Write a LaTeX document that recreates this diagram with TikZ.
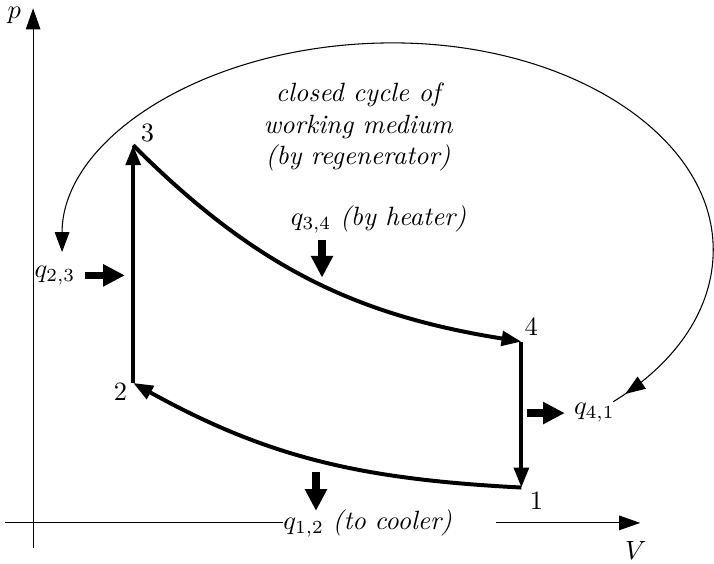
\documentclass[tikz,border=0pt]{standalone}
\usepackage{amsmath,amssymb}
\usepackage{xcolor}
\usepackage{tikz}
\usetikzlibrary{arrows.meta,positioning,decorations.markings}
\tikzset{
  axis/.style={-{Triangle[length=8pt,width=5.5pt]},line width=0.4pt},
  cycle/.style={-{Triangle[length=7.5pt,width=5.5pt]},line width=1.5pt},
  heat/.style={-{Triangle[length=8.2pt,width=7.9pt]},line width=2.8pt},
  regen/.style={-{Triangle[length=7.5pt,width=5.5pt]},line width=0.4pt,
    postaction={decorate},
    decoration={markings,mark=at position 5.5pt with {\arrowreversed{Triangle[length=7.5pt,width=5.5pt]}}}},
  num/.style={inner sep=1pt},
  note/.style={align=center,font=\itshape}
}

\begin{document}
\begin{tikzpicture}
\useasboundingbox (-0.44,-0.545) rectangle (9.05,6.95);
% axes
\coordinate (vbot) at (0,-0.33);
\coordinate (vtop) at (0,6.84);
\coordinate (hleft) at (-0.37,0);
\coordinate (hright) at (8.07,0);
\draw[axis] (vbot) -- (vtop);
\draw[axis] (hleft) -- (hright);
\node[inner sep=1pt] (plabel) at (-0.25,6.75) {$p$};
\node (vlabel) at (8.01,-0.37) {$V$};
% state points
\coordinate (s1) at (6.49,0.47);
\coordinate (s2) at (1.33,1.86);
\coordinate (s3) at (1.33,5.02);
\coordinate (s4) at (6.49,2.41);
\node[num] (n1) at (6.69,0.29) {1};
\node[num] (n2) at (1.16,1.74) {2};
\node[num] (n3) at (1.52,5.18) {3};
\node[num] (n4) at (6.62,2.61) {4};
\draw[cycle] (s2) -- (s3);
\draw[cycle] (s3) to[out=-45,in=171] (s4);
\draw[cycle] (s4) -- (s1);
\draw[cycle] (s1) to[out=177,in=-29] (s2);
% heat flows
\node (q23) at (0.29,3.29) {$q_{2,3}$};
\coordinate (h23) at (1.22,3.29);
\draw[heat] (q23) -- (h23);
\node (q34) at (4.59,4.04) {$q_{3,4}$ \textit{(by heater)}};
\coordinate (h34a) at (3.84,3.76);
\coordinate (h34b) at (3.84,3.26);
\draw[heat] (h34a) -- (h34b);
\node (q41) at (7.46,1.46) {$q_{4,1}$};
\coordinate (h41) at (6.57,1.46);
\draw[heat] (h41) -- (q41);
\node[fill=white,inner sep=0pt,anchor=west,text width=2.82cm,align=left] (q12) at (3.32,0) {$q_{1,2}$ \textit{(to cooler)}};
\coordinate (h12a) at (3.76,0.68);
\coordinate (h12b) at (3.76,0.16);
\draw[heat] (h12a) -- (h12b);
% regenerator loop
\node[note] (regen) at (4.32,5.26) {closed cycle of\\working medium\\(by regenerator)};
\coordinate (r0) at (7.71,1.61);
\coordinate (r1) at (9.04,3.63);
\coordinate (r2) at (4.78,6.38);
\coordinate (r3) at (0.385,3.60);
\draw[regen] (r0) .. controls +(0.86,0.53) and +(0,-0.77) .. (r1)
  .. controls +(0,1.52) and +(2.35,0) .. (r2)
  .. controls +(-2.43,0) and +(0,1.53) .. (r3);
\end{tikzpicture}
\end{document}
